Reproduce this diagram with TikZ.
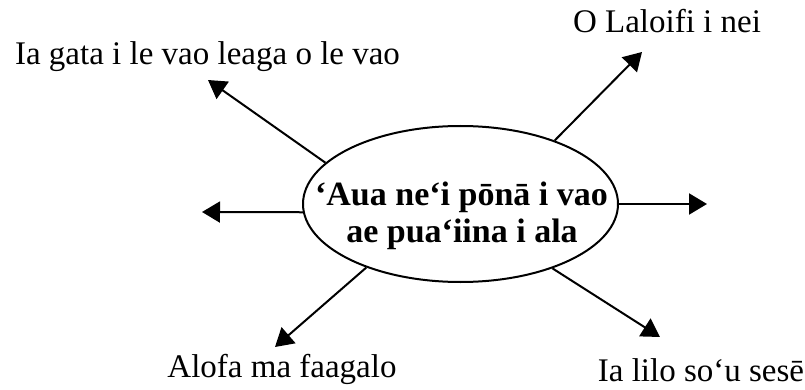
\documentclass[tikz,border=0pt]{standalone}
\usepackage{fontspec}
\setmainfont{Liberation Serif}
\usetikzlibrary{arrows.meta,shapes.geometric}
\tikzset{
  lbl/.style={anchor=base, inner sep=0pt, font=\fontsize{33}{38}\selectfont},
  ctr/.style={anchor=base, inner sep=0pt, font=\fontsize{34}{37}\selectfont\bfseries},
  arr/.style={line width=2pt, -{Triangle[length=18pt,width=21pt]}}
}
\begin{document}
\begin{tikzpicture}[x=1pt,y=-1pt]
\useasboundingbox (0,0) rectangle (805,390);
\node[ellipse, draw, line width=2pt, minimum width=315pt, minimum height=156pt, inner sep=0pt] (e) at (460.5,204) {};
\node[ctr] (c1) at (461.5,205) {‘Aua ne‘i pōnā i vao};
\node[ctr] (c2) at (462,242) {ae pua‘iina i ala};
\node[lbl] (l1) at (667,33) {O Laloifi i nei};
\node[lbl] (l2) at (207.5,65) {Ia gata i le vao leaga o le vao};
\node[lbl] (l3) at (282,377) {Alofa ma faagalo};
\node[lbl] (l4) at (701,381) {Ia lilo so‘u sesē};
\coordinate (ttl) at (208,80);
\coordinate (ttr) at (642,52);
\coordinate (tr) at (707,204);
\coordinate (tl) at (202,212);
\coordinate (tbl) at (275,347);
\coordinate (tbr) at (660,337);
\draw[arr] (e.east) -- (tr);
\draw[arr] (e.163) -- (ttl);
\draw[arr] (e.34.8) -- (ttr);
\draw[arr] (e.183) -- (tl);
\draw[arr] (e.214.5) -- (tbl);
\draw[arr] (e.325.5) -- (tbr);
\end{tikzpicture}
\end{document}
